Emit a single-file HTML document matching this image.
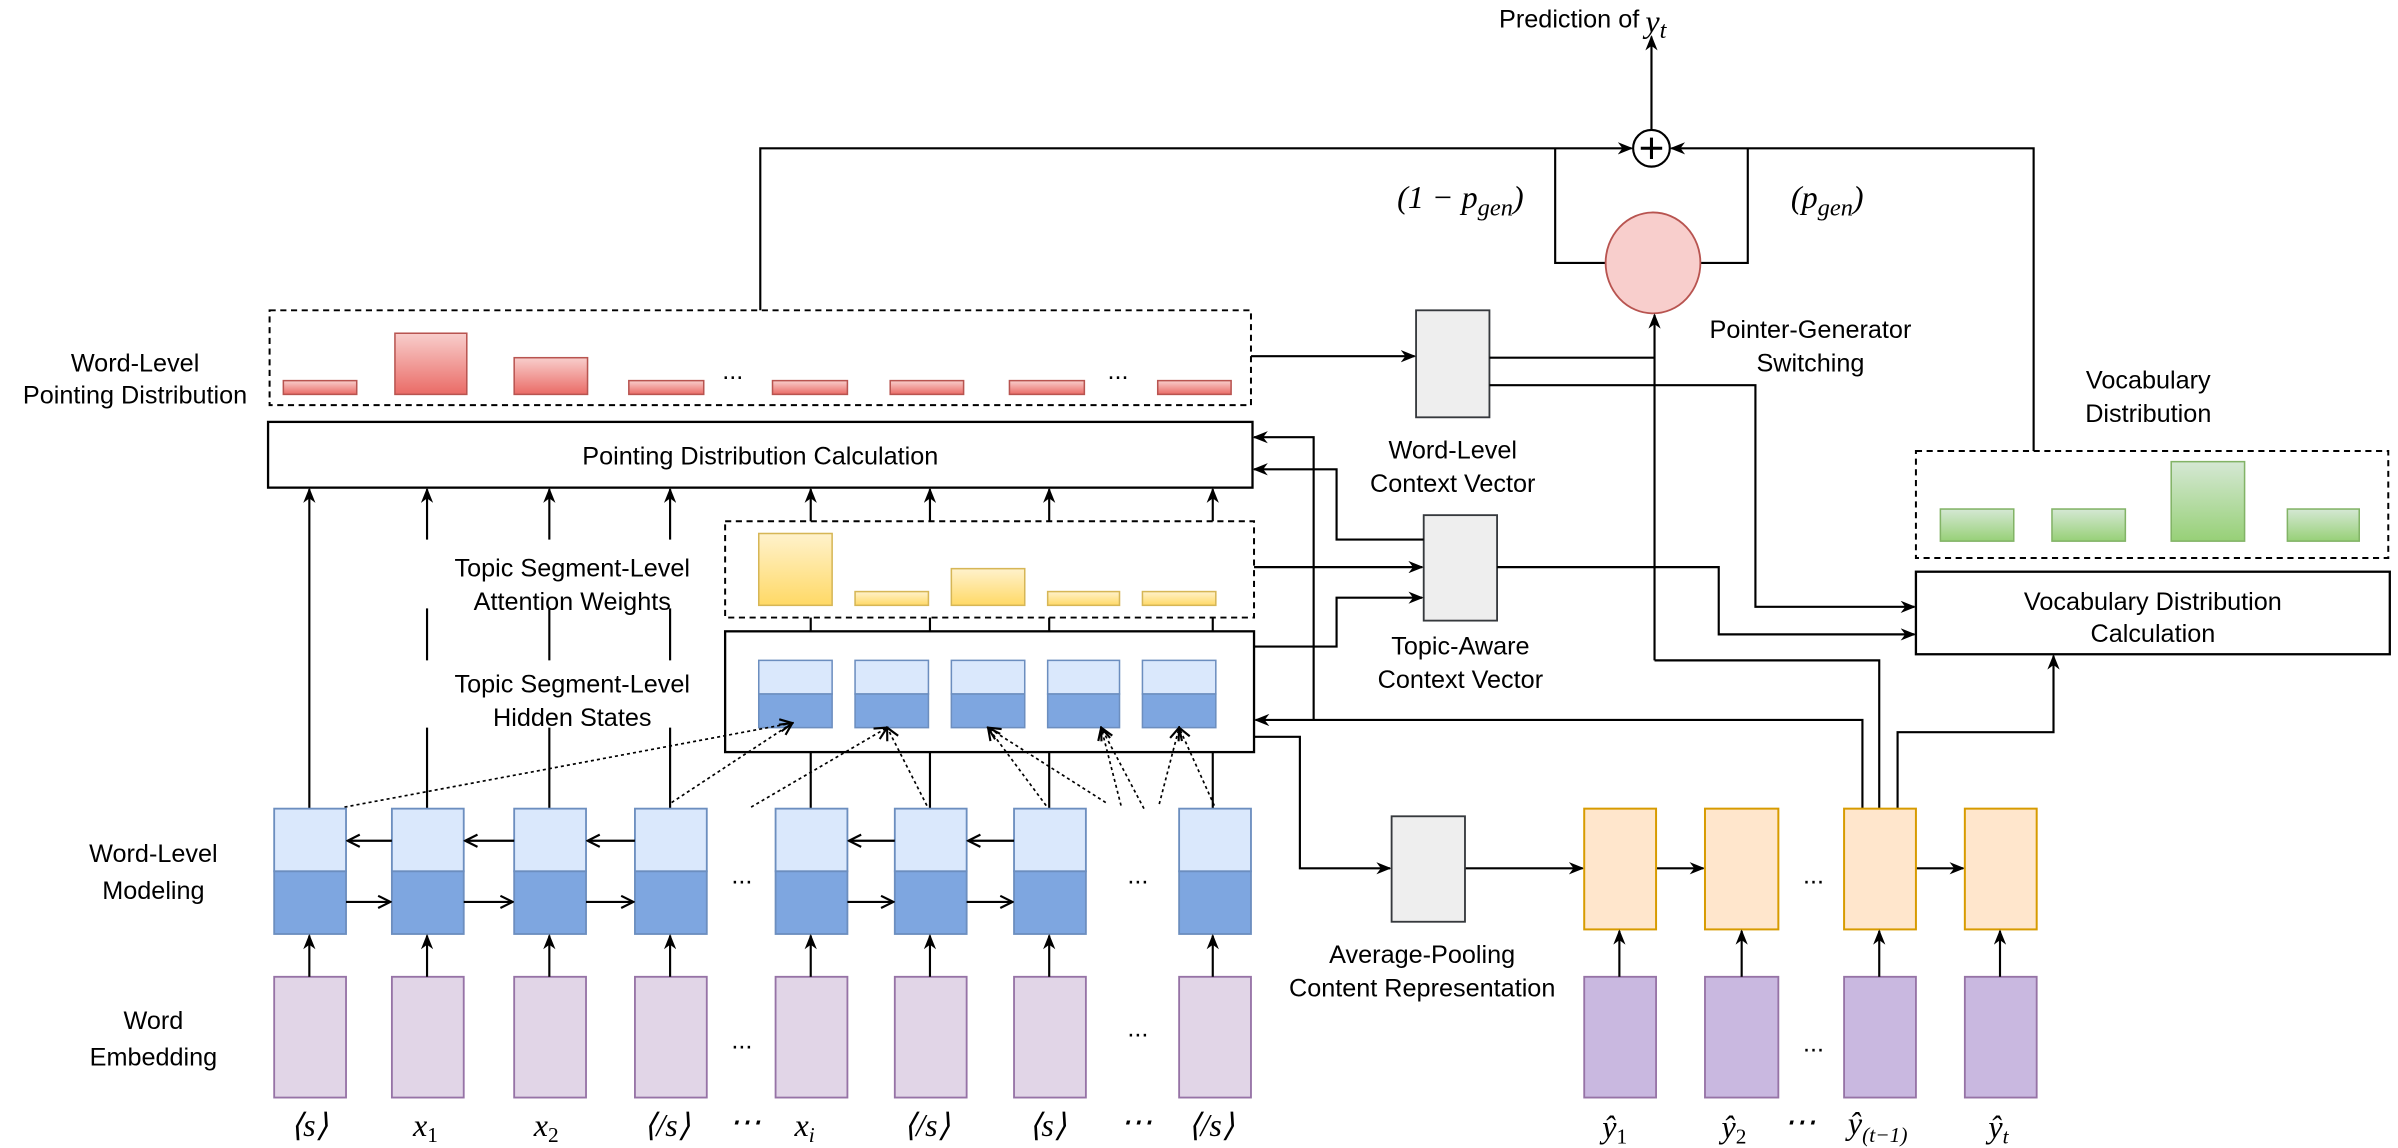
<!DOCTYPE html>
<html><head><meta charset="utf-8"><style>
html,body{margin:0;padding:0;background:#fff;}
svg{display:block;}
text{font-family:"Liberation Sans",Arial,sans-serif;font-size:16.5px;fill:#000;}
.m{font-family:"Liberation Serif",serif;font-style:italic;font-size:21px;}
.ln{fill:none;stroke:#000;stroke-width:1.4;}
.dot{fill:none;stroke:#000;stroke-width:1.1;stroke-dasharray:2 2;}
</style></head><body>
<svg width="2398" height="1148" viewBox="0 0 1568 751" xmlns="http://www.w3.org/2000/svg">
<defs>
<marker id="a" markerWidth="10" markerHeight="8" refX="9" refY="4" orient="auto" markerUnits="userSpaceOnUse"><path d="M0,0 L10,4 L0,8 L3,4 Z" fill="#000"/></marker>
<marker id="o" markerWidth="10" markerHeight="10" refX="9" refY="5" orient="auto" markerUnits="userSpaceOnUse"><path d="M1,1 L9,5 L1,9" fill="none" stroke="#000" stroke-width="1.4"/></marker>
<linearGradient id="gr" x1="0" y1="0" x2="0" y2="1"><stop offset="0" stop-color="#f8cecc"/><stop offset="1" stop-color="#ea6b66"/></linearGradient>
<linearGradient id="gy" x1="0" y1="0" x2="0" y2="1"><stop offset="0" stop-color="#fff2cc"/><stop offset="1" stop-color="#ffd966"/></linearGradient>
<linearGradient id="gg" x1="0" y1="0" x2="0" y2="1"><stop offset="0" stop-color="#d5e8d4"/><stop offset="1" stop-color="#97d077"/></linearGradient>
</defs>

<!-- top -->
<text x="1072" y="18" text-anchor="end">Prediction of</text>
<text class="m" x="1076" y="21" font-size="26">y<tspan font-size="16" dy="4">t</tspan></text>
<line class="ln" x1="1080" y1="85" x2="1080" y2="24" marker-end="url(#a)"/>
<circle cx="1080" cy="97" r="12" fill="#fff" stroke="#000" stroke-width="1.4"/>
<path d="M1073,97 H1087 M1080,90 V104" stroke="#000" stroke-width="2"/>
<path class="ln" d="M497,203 V97 H1067" marker-end="url(#a)"/>
<path class="ln" d="M1330,295 V97 H1093" marker-end="url(#a)"/>
<path class="ln" d="M1017,97 V172 H1050 M1143,97 V172 H1112"/>
<ellipse cx="1081" cy="172" rx="31" ry="33" fill="#f8cecc" stroke="#b85450" stroke-width="1.2"/>
<text class="m" x="955" y="136" text-anchor="middle" font-size="24">(1 − p<tspan font-size="16" dy="5">gen</tspan><tspan dy="-5">)</tspan></text>
<text class="m" x="1195" y="136" text-anchor="middle" font-size="24">(p<tspan font-size="16" dy="5">gen</tspan><tspan dy="-5">)</tspan></text>
<text x="1184" y="221" text-anchor="middle">Pointer-Generator</text>
<text x="1184" y="243" text-anchor="middle">Switching</text>

<!-- left labels -->
<text x="88" y="243" text-anchor="middle">Word-Level</text>
<text x="88" y="264" text-anchor="middle">Pointing Distribution</text>
<text x="100" y="564" text-anchor="middle">Word-Level</text>
<text x="100" y="588" text-anchor="middle">Modeling</text>
<text x="100" y="673" text-anchor="middle">Word</text>
<text x="100" y="697" text-anchor="middle">Embedding</text>
<text x="374" y="377" text-anchor="middle">Topic Segment-Level</text>
<text x="374" y="399" text-anchor="middle">Attention Weights</text>
<text x="374" y="453" text-anchor="middle">Topic Segment-Level</text>
<text x="374" y="475" text-anchor="middle">Hidden States</text>

<!-- word-level pointing distribution -->
<rect x="176" y="203" width="642" height="62" fill="none" stroke="#000" stroke-width="1.3" stroke-dasharray="4 3"/>
<g fill="url(#gr)" stroke="#b85450" stroke-width="1">
<rect x="185" y="249" width="48" height="9"/><rect x="258" y="218" width="47" height="40"/>
<rect x="336" y="234" width="48" height="24"/><rect x="411" y="249" width="49" height="9"/>
<rect x="505" y="249" width="49" height="9"/><rect x="582" y="249" width="48" height="9"/>
<rect x="660" y="249" width="49" height="9"/><rect x="757" y="249" width="48" height="9"/>
</g>
<text x="479" y="248" text-anchor="middle" font-size="12">...</text>
<text x="731" y="248" text-anchor="middle" font-size="12">...</text>

<!-- pointing calc -->
<rect x="175" y="276" width="644" height="43" fill="#fff" stroke="#000" stroke-width="1.5"/>
<text x="497" y="304" text-anchor="middle">Pointing Distribution Calculation</text>

<!-- topic attention -->
<rect x="474" y="341" width="346" height="63" fill="none" stroke="#000" stroke-width="1.3" stroke-dasharray="4 3"/>
<g fill="url(#gy)" stroke="#d6b656" stroke-width="1">
<rect x="496" y="349" width="48" height="47"/><rect x="559" y="387" width="48" height="9"/>
<rect x="622" y="372" width="48" height="24"/><rect x="685" y="387" width="47" height="9"/>
<rect x="747" y="387" width="48" height="9"/>
</g>
<!-- topic hidden -->
<rect x="474" y="413" width="346" height="79" fill="#fff" stroke="#000" stroke-width="1.5"/>
<g stroke="#6c8ebf" stroke-width="1">
<rect x="496" y="432" width="48" height="22" fill="#dae8fc"/><rect x="496" y="454" width="48" height="22" fill="#7ea6e0"/>
<rect x="559" y="432" width="48" height="22" fill="#dae8fc"/><rect x="559" y="454" width="48" height="22" fill="#7ea6e0"/>
<rect x="622" y="432" width="48" height="22" fill="#dae8fc"/><rect x="622" y="454" width="48" height="22" fill="#7ea6e0"/>
<rect x="685" y="432" width="47" height="22" fill="#dae8fc"/><rect x="685" y="454" width="47" height="22" fill="#7ea6e0"/>
<rect x="747" y="432" width="48" height="22" fill="#dae8fc"/><rect x="747" y="454" width="48" height="22" fill="#7ea6e0"/>
</g>

<!-- vertical connectors -->
<g class="ln" stroke-width="1.2">
<line x1="202" y1="529" x2="202" y2="320" marker-end="url(#a)"/>
<line x1="279" y1="353" x2="279" y2="320" marker-end="url(#a)"/><line x1="279" y1="398" x2="279" y2="432"/><line x1="279" y1="476" x2="279" y2="529"/>
<line x1="359" y1="353" x2="359" y2="320" marker-end="url(#a)"/><line x1="359" y1="398" x2="359" y2="432"/><line x1="359" y1="476" x2="359" y2="529"/>
<line x1="438" y1="353" x2="438" y2="320" marker-end="url(#a)"/><line x1="438" y1="398" x2="438" y2="432"/><line x1="438" y1="476" x2="438" y2="529"/>
<line x1="530" y1="341" x2="530" y2="320" marker-end="url(#a)"/><line x1="530" y1="404" x2="530" y2="413"/><line x1="530" y1="492" x2="530" y2="529"/>
<line x1="608" y1="341" x2="608" y2="320" marker-end="url(#a)"/><line x1="608" y1="404" x2="608" y2="413"/><line x1="608" y1="492" x2="608" y2="529"/>
<line x1="686" y1="341" x2="686" y2="320" marker-end="url(#a)"/><line x1="686" y1="404" x2="686" y2="413"/><line x1="686" y1="492" x2="686" y2="529"/>
<line x1="793" y1="341" x2="793" y2="320" marker-end="url(#a)"/><line x1="793" y1="404" x2="793" y2="413"/><line x1="793" y1="492" x2="793" y2="529"/>
</g>

<!-- dotted -->
<g class="dot">
<line x1="225" y1="528" x2="518" y2="473" marker-end="url(#o)"/>
<line x1="439" y1="525" x2="518" y2="473" marker-end="url(#o)"/>
<line x1="491" y1="528" x2="580" y2="476" marker-end="url(#o)"/>
<line x1="606" y1="527" x2="580" y2="476" marker-end="url(#o)"/>
<line x1="684" y1="527" x2="646" y2="476" marker-end="url(#o)"/>
<line x1="723" y1="525" x2="646" y2="476" marker-end="url(#o)"/>
<line x1="733" y1="527" x2="720" y2="476" marker-end="url(#o)"/>
<line x1="748" y1="529" x2="720" y2="476" marker-end="url(#o)"/>
<line x1="758" y1="526" x2="771" y2="476" marker-end="url(#o)"/>
<line x1="794" y1="527" x2="771" y2="476" marker-end="url(#o)"/>
</g>

<!-- word-level cells -->
<g stroke="#6c8ebf" stroke-width="1.2">
<rect x="179" y="529" width="47" height="41" fill="#dae8fc"/><rect x="179" y="570" width="47" height="41" fill="#7ea6e0"/>
<rect x="256" y="529" width="47" height="41" fill="#dae8fc"/><rect x="256" y="570" width="47" height="41" fill="#7ea6e0"/>
<rect x="336" y="529" width="47" height="41" fill="#dae8fc"/><rect x="336" y="570" width="47" height="41" fill="#7ea6e0"/>
<rect x="415" y="529" width="47" height="41" fill="#dae8fc"/><rect x="415" y="570" width="47" height="41" fill="#7ea6e0"/>
<rect x="507" y="529" width="47" height="41" fill="#dae8fc"/><rect x="507" y="570" width="47" height="41" fill="#7ea6e0"/>
<rect x="585" y="529" width="47" height="41" fill="#dae8fc"/><rect x="585" y="570" width="47" height="41" fill="#7ea6e0"/>
<rect x="663" y="529" width="47" height="41" fill="#dae8fc"/><rect x="663" y="570" width="47" height="41" fill="#7ea6e0"/>
<rect x="771" y="529" width="47" height="41" fill="#dae8fc"/><rect x="771" y="570" width="47" height="41" fill="#7ea6e0"/>
</g>
<g class="ln" stroke-width="2">
<line x1="256" y1="550" x2="227" y2="550" marker-end="url(#o)"/><line x1="226" y1="590" x2="255" y2="590" marker-end="url(#o)"/>
<line x1="336" y1="550" x2="304" y2="550" marker-end="url(#o)"/><line x1="303" y1="590" x2="335" y2="590" marker-end="url(#o)"/>
<line x1="415" y1="550" x2="384" y2="550" marker-end="url(#o)"/><line x1="383" y1="590" x2="414" y2="590" marker-end="url(#o)"/>
<line x1="585" y1="550" x2="555" y2="550" marker-end="url(#o)"/><line x1="554" y1="590" x2="584" y2="590" marker-end="url(#o)"/>
<line x1="663" y1="550" x2="633" y2="550" marker-end="url(#o)"/><line x1="632" y1="590" x2="662" y2="590" marker-end="url(#o)"/>
</g>
<text x="485" y="578" text-anchor="middle" font-size="12">...</text>
<text x="744" y="578" text-anchor="middle" font-size="12">...</text>

<!-- embeddings -->
<g fill="#e1d5e7" stroke="#9673a6" stroke-width="1.2">
<rect x="179" y="639" width="47" height="79"/><rect x="256" y="639" width="47" height="79"/>
<rect x="336" y="639" width="47" height="79"/><rect x="415" y="639" width="47" height="79"/>
<rect x="507" y="639" width="47" height="79"/><rect x="585" y="639" width="47" height="79"/>
<rect x="663" y="639" width="47" height="79"/><rect x="771" y="639" width="47" height="79"/>
</g>
<g class="ln" stroke-width="1.2">
<line x1="202" y1="639" x2="202" y2="612" marker-end="url(#a)"/><line x1="279" y1="639" x2="279" y2="612" marker-end="url(#a)"/>
<line x1="359" y1="639" x2="359" y2="612" marker-end="url(#a)"/><line x1="438" y1="639" x2="438" y2="612" marker-end="url(#a)"/>
<line x1="530" y1="639" x2="530" y2="612" marker-end="url(#a)"/><line x1="608" y1="639" x2="608" y2="612" marker-end="url(#a)"/>
<line x1="686" y1="639" x2="686" y2="612" marker-end="url(#a)"/><line x1="793" y1="639" x2="793" y2="612" marker-end="url(#a)"/>
</g>
<text x="485" y="686" text-anchor="middle" font-size="12">...</text>
<text x="744" y="678" text-anchor="middle" font-size="12">...</text>
<g class="m" text-anchor="middle">
<text class="m" x="202" y="743">⟨s⟩</text>
<text class="m" x="278" y="743">x<tspan font-size="14" dy="4" font-style="normal">1</tspan></text>
<text class="m" x="357" y="743">x<tspan font-size="14" dy="4" font-style="normal">2</tspan></text>
<text class="m" x="436" y="743">⟨/s⟩</text>
<text class="m" x="487" y="741">⋯</text>
<text class="m" x="526" y="743">x<tspan font-size="14" dy="4">i</tspan></text>
<text class="m" x="606" y="743">⟨/s⟩</text>
<text class="m" x="685" y="743">⟨s⟩</text>
<text class="m" x="743" y="741">⋯</text>
<text class="m" x="792" y="743">⟨/s⟩</text>
</g>

<!-- context vectors -->
<rect x="926" y="203" width="48" height="70" fill="#eeeeee" stroke="#36393d" stroke-width="1.2"/>
<text x="950" y="300" text-anchor="middle">Word-Level</text>
<text x="950" y="322" text-anchor="middle">Context Vector</text>
<rect x="931" y="337" width="48" height="69" fill="#eeeeee" stroke="#36393d" stroke-width="1.2"/>
<text x="955" y="428" text-anchor="middle">Topic-Aware</text>
<text x="955" y="450" text-anchor="middle">Context Vector</text>

<g class="ln">
<line x1="818" y1="233" x2="925" y2="233" marker-end="url(#a)"/>
<path d="M974,234 H1082"/>
<path d="M1082,432 V206" marker-end="url(#a)"/>
<path d="M1229,529 V432 H1082"/>
<path d="M974,252 H1148 V397 H1252" marker-end="url(#a)"/>
<line x1="820" y1="371" x2="930" y2="371" marker-end="url(#a)"/>
<path d="M820,423 H874 V391 H930" marker-end="url(#a)"/>
<path d="M931,353 H874 V307 H820" marker-end="url(#a)"/>
<path d="M859,471 V286 H820" marker-end="url(#a)"/>
<path d="M1218,529 V471 H821" marker-end="url(#a)"/>
<path d="M979,371 H1124 V415 H1252" marker-end="url(#a)"/>
<path d="M1241,529 V479 H1343 V429" marker-end="url(#a)"/>
<path d="M820,482 H850 V568 H909" marker-end="url(#a)"/>
<line x1="958" y1="568" x2="1035" y2="568" marker-end="url(#a)"/>
<line x1="1083" y1="568" x2="1114" y2="568" marker-end="url(#a)"/>
<line x1="1253" y1="568" x2="1284" y2="568" marker-end="url(#a)"/>
</g>

<!-- vocab -->
<text x="1405" y="254" text-anchor="middle">Vocabulary</text>
<text x="1405" y="276" text-anchor="middle">Distribution</text>
<rect x="1253" y="295" width="309" height="70" fill="none" stroke="#000" stroke-width="1.3" stroke-dasharray="4 3"/>
<g fill="url(#gg)" stroke="#82b366" stroke-width="1">
<rect x="1269" y="333" width="48" height="21"/><rect x="1342" y="333" width="48" height="21"/>
<rect x="1420" y="302" width="48" height="52"/><rect x="1496" y="333" width="47" height="21"/>
</g>
<rect x="1253" y="374" width="310" height="54" fill="#fff" stroke="#000" stroke-width="1.5"/>
<text x="1408" y="399" text-anchor="middle">Vocabulary Distribution</text>
<text x="1408" y="420" text-anchor="middle">Calculation</text>

<!-- pooling & decoder -->
<rect x="910" y="534" width="48" height="69" fill="#eeeeee" stroke="#36393d" stroke-width="1.2"/>
<text x="930" y="630" text-anchor="middle">Average-Pooling</text>
<text x="930" y="652" text-anchor="middle">Content Representation</text>
<g fill="#ffe6cc" stroke="#d79b00" stroke-width="1.3">
<rect x="1036" y="529" width="47" height="79"/><rect x="1115" y="529" width="48" height="79"/>
<rect x="1206" y="529" width="47" height="79"/><rect x="1285" y="529" width="47" height="79"/>
</g>
<g fill="#c9b8e0" stroke="#9673a6" stroke-width="1.2">
<rect x="1036" y="639" width="47" height="79"/><rect x="1115" y="639" width="48" height="79"/>
<rect x="1206" y="639" width="47" height="79"/><rect x="1285" y="639" width="47" height="79"/>
</g>
<g class="ln" stroke-width="1.2">
<line x1="1059" y1="639" x2="1059" y2="609" marker-end="url(#a)"/><line x1="1139" y1="639" x2="1139" y2="609" marker-end="url(#a)"/>
<line x1="1229" y1="639" x2="1229" y2="609" marker-end="url(#a)"/><line x1="1308" y1="639" x2="1308" y2="609" marker-end="url(#a)"/>
</g>
<text x="1186" y="578" text-anchor="middle" font-size="12">...</text>
<text x="1186" y="688" text-anchor="middle" font-size="12">...</text>
<text class="m" x="1056" y="744" text-anchor="middle">ŷ<tspan font-size="14" dy="4" font-style="normal">1</tspan></text>
<text class="m" x="1134" y="744" text-anchor="middle">ŷ<tspan font-size="14" dy="4" font-style="normal">2</tspan></text>
<text class="m" x="1177" y="741" text-anchor="middle">⋯</text>
<text class="m" x="1228" y="742" text-anchor="middle">ŷ<tspan font-size="14" dy="5">(t−1)</tspan></text>
<text class="m" x="1307" y="744" text-anchor="middle">ŷ<tspan font-size="14" dy="4">t</tspan></text>
</svg>
</body></html>
